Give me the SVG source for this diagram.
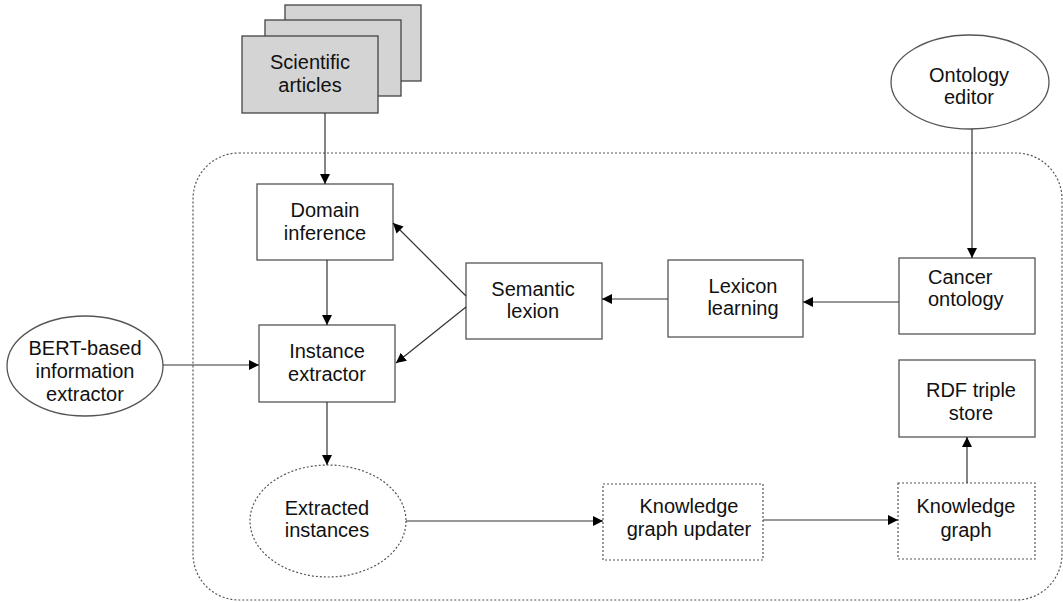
<svg xmlns="http://www.w3.org/2000/svg" width="1063" height="602" viewBox="0 0 1063 602">
<style>
text{font-family:"Liberation Sans",Arial,sans-serif;font-size:20px;fill:#111;text-anchor:middle}
.box{fill:#fff;stroke:#555;stroke-width:1.3}
.dot{fill:#fff;stroke:#555;stroke-width:1.2;stroke-dasharray:2 2}
.paper{fill:#d4d4d4;stroke:#444;stroke-width:1.3}
.c{fill:none;stroke:#333;stroke-width:1.2}
</style>
<defs>
<marker id="ah" viewBox="0 0 10 10" refX="10" refY="5" markerWidth="10" markerHeight="10" markerUnits="userSpaceOnUse" orient="auto">
<path d="M0,0 L10,5 L0,10 z" fill="#000"/>
</marker>
</defs>
<rect id="container" x="193" y="153" width="869" height="447" rx="46" ry="46" fill="none" stroke="#555" stroke-width="1.2" stroke-dasharray="2 2"/>
<g id="articles">
<rect class="paper" x="285" y="5" width="136" height="76"/>
<rect class="paper" x="265" y="20" width="136" height="76"/>
<rect class="paper" x="242" y="36" width="136" height="77"/>
<text x="310" y="69">Scientific</text>
<text x="310" y="92">articles</text>
</g>
<g id="ontology-editor">
<ellipse class="box" cx="970" cy="82" rx="79" ry="47"/>
<text x="969" y="82">Ontology</text>
<text x="969" y="104">editor</text>
</g>
<g id="domain-inference">
<rect class="box" x="257" y="184" width="136" height="76"/>
<text x="325" y="217">Domain</text>
<text x="325" y="240">inference</text>
</g>
<g id="instance-extractor">
<rect class="box" x="259" y="325" width="136" height="77"/>
<text x="327" y="358">Instance</text>
<text x="327" y="381">extractor</text>
</g>
<g id="semantic-lexion">
<rect class="box" x="466" y="263" width="136" height="76"/>
<text x="533" y="296">Semantic</text>
<text x="533" y="318">lexion</text>
</g>
<g id="lexicon-learning">
<rect class="box" x="668" y="260" width="135" height="77"/>
<text x="743" y="293">Lexicon</text>
<text x="743" y="315">learning</text>
</g>
<g id="cancer-ontology">
<rect class="box" x="899" y="258" width="136" height="76"/>
<text x="928" y="284" style="text-anchor:start">Cancer</text>
<text x="928" y="306" style="text-anchor:start">ontology</text>
</g>
<g id="rdf-store">
<rect class="box" x="899" y="360" width="136" height="77"/>
<text x="971" y="397">RDF triple</text>
<text x="971" y="420">store</text>
</g>
<g id="bert">
<ellipse class="box" cx="85" cy="366" rx="78" ry="50"/>
<text x="85" y="355">BERT-based</text>
<text x="85" y="378">information</text>
<text x="85" y="401">extractor</text>
</g>
<g id="extracted-instances">
<ellipse class="dot" cx="328" cy="521" rx="78" ry="56"/>
<text x="327" y="515">Extracted</text>
<text x="327" y="537">instances</text>
</g>
<g id="kg-updater">
<rect class="dot" x="603" y="484" width="160" height="76"/>
<text x="689" y="513">Knowledge</text>
<text x="689" y="536">graph updater</text>
</g>
<g id="knowledge-graph">
<rect class="dot" x="898" y="483" width="137" height="76"/>
<text x="966" y="513">Knowledge</text>
<text x="966" y="537">graph</text>
</g>
<g id="connectors">
<line class="c" x1="325" y1="113" x2="325" y2="184" marker-end="url(#ah)"/>
<line class="c" x1="972" y1="129" x2="972" y2="258" marker-end="url(#ah)"/>
<line class="c" x1="899" y1="302" x2="803" y2="302" marker-end="url(#ah)"/>
<line class="c" x1="668" y1="299" x2="602" y2="299" marker-end="url(#ah)"/>
<line class="c" x1="466" y1="296" x2="393" y2="223" marker-end="url(#ah)"/>
<line class="c" x1="466" y1="307" x2="396" y2="363" marker-end="url(#ah)"/>
<line class="c" x1="327" y1="260" x2="327" y2="325" marker-end="url(#ah)"/>
<line class="c" x1="163" y1="365" x2="259" y2="365" marker-end="url(#ah)"/>
<line class="c" x1="327" y1="402" x2="327" y2="465" marker-end="url(#ah)"/>
<line class="c" x1="406" y1="521" x2="603" y2="521" marker-end="url(#ah)"/>
<line class="c" x1="763" y1="520" x2="898" y2="520" marker-end="url(#ah)"/>
<line class="c" x1="967" y1="483" x2="967" y2="437" marker-end="url(#ah)"/>
</g>
</svg>
